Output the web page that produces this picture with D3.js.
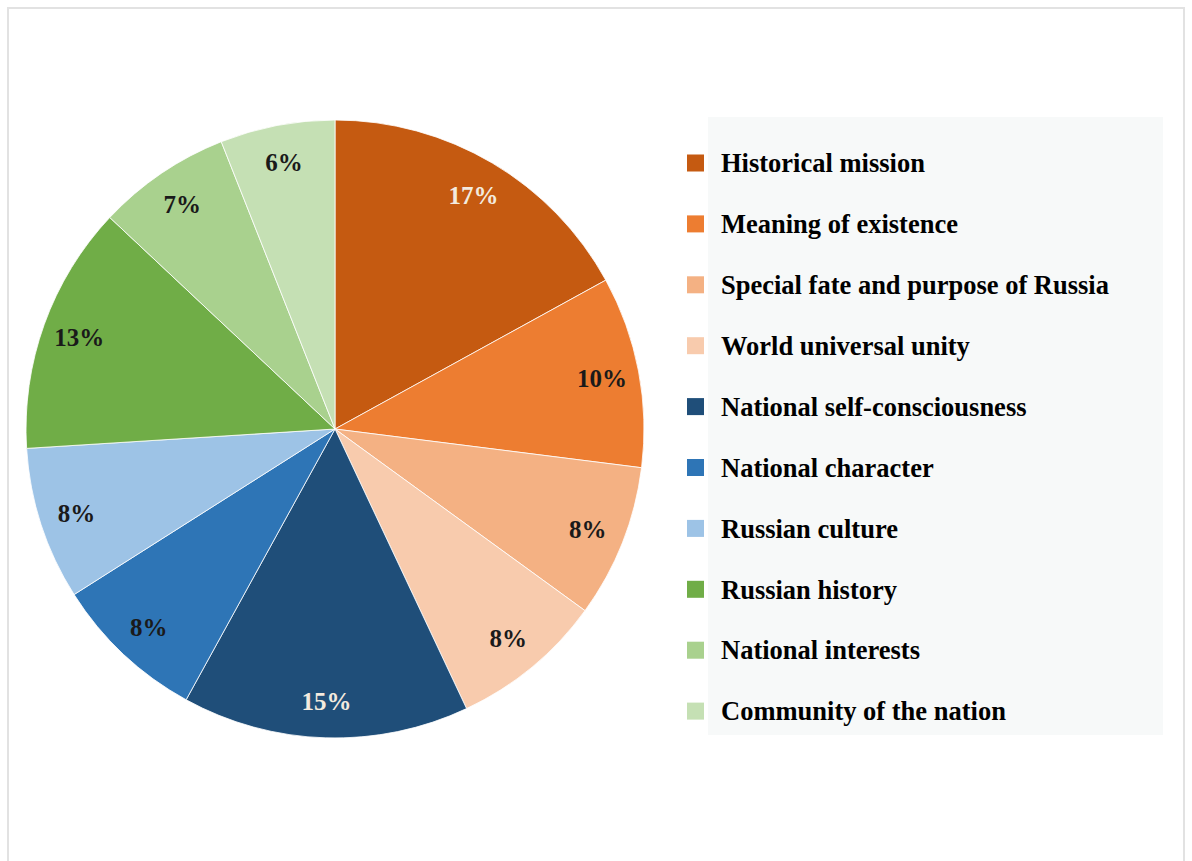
<!DOCTYPE html>
<html>
<head>
<meta charset="utf-8">
<script src="https://cdn.jsdelivr.net/npm/d3@7"></script>
<style>
  body { margin: 0; background: #fff; }
  text { font-family: "Liberation Serif", "Times New Roman", serif; font-weight: bold; }
</style>
</head>
<body>
<div id="chart-area"></div>
<script>
// data
var categories = ["Historical mission", "Meaning of existence", "Special fate and purpose of Russia",
  "World universal unity", "National self-consciousness", "National character", "Russian culture",
  "Russian history", "National interests", "Community of the nation"];
var values = [17, 10, 8, 8, 15, 8, 8, 13, 7, 6];
var colors = ["#c55a11", "#ed7d31", "#f4b183", "#f8cbad", "#1f4e79", "#2e75b6", "#9dc3e6",
  "#70ad47", "#a9d18e", "#c5e0b4"];

var width = 1192, height = 861;

var svg = d3.select("#chart-area")
  .append("svg")
  .attr("width", width)
  .attr("height", height);

// outer frame
svg.append("rect")
  .attr("x", 8).attr("y", 8)
  .attr("width", 1176).attr("height", 880)
  .attr("fill", "#fff")
  .attr("stroke", "#e2e2e2")
  .attr("stroke-width", 2);

var cx = 335, cy = 429, radius = 309;

var g = svg.append("g")
  .attr("transform", "translate(" + cx + "," + cy + ")");

var pie = d3.pie().sort(null).value(function (d) { return d; });
var arc = d3.arc().innerRadius(0).outerRadius(radius);
var labelArc = d3.arc().innerRadius(radius * 0.88).outerRadius(radius * 0.88);

var arcs = pie(values);

g.selectAll("path")
  .data(arcs)
  .enter()
  .append("path")
  .attr("d", arc)
  .attr("fill", function (d, i) { return colors[i]; })
  .attr("stroke", "#fff")
  .attr("stroke-width", 0.8);

// light text only on the two darkest slices
function labelColor(c) {
  return d3.hsl(c).l < 0.43 ? "#f3eadf" : "#1a1a1a";
}

g.selectAll("text.pct")
  .data(arcs)
  .enter()
  .append("text")
  .attr("class", "pct")
  .attr("transform", function (d) { return "translate(" + labelArc.centroid(d) + ")"; })
  .attr("text-anchor", "middle")
  .attr("dy", "0.35em")
  .attr("font-size", 25)
  .attr("fill", function (d, i) { return labelColor(colors[i]); })
  .text(function (d) { return d.data + "%"; });

// legend
svg.append("rect")
  .attr("x", 708).attr("y", 117)
  .attr("width", 455).attr("height", 618)
  .attr("fill", "#f7f9f9");

var legend = svg.append("g")
  .attr("transform", "translate(687,163)");

categories.forEach(function (name, i) {
  var row = legend.append("g")
    .attr("transform", "translate(0," + (i * 60.9) + ")");

  row.append("rect")
    .attr("x", 0).attr("y", -8.5)
    .attr("width", 17).attr("height", 17)
    .attr("fill", colors[i]);

  row.append("text")
    .attr("x", 34)
    .attr("y", 0)
    .attr("dy", "0.35em")
    .attr("font-size", 26.5)
    .attr("fill", "#000")
    .text(name);
});
</script>
</body>
</html>
